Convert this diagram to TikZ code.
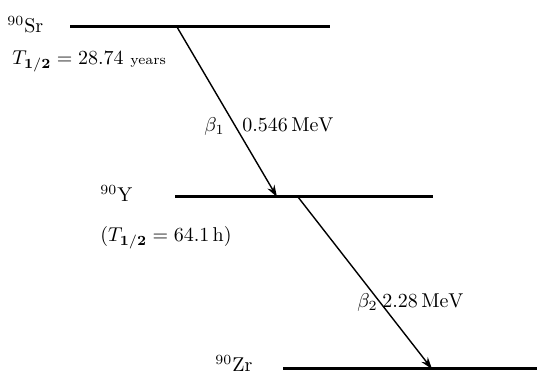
\documentclass[tikz,border=0pt]{standalone}
\usetikzlibrary{arrows.meta}
\begin{document}
\begin{tikzpicture}[x=0.5pt,y=-0.5pt,
  level/.style={line width=1.5pt},
  decay/.style={line width=0.7pt,-{Stealth[length=6pt,width=4pt]}},
  blbl/.style={inner sep=0pt,anchor=base west}]
\useasboundingbox (0,0) rectangle (537,374);
% levels
\coordinate (srL) at (70,27);  \coordinate (srR) at (330,27);
\coordinate (yL) at (175,197); \coordinate (yR) at (433,197);
\coordinate (zrL) at (283,369); \coordinate (zrR) at (537,369);
\draw[level] (srL) -- (srR);
\draw[level] (yL) -- (yR);
\draw[level] (zrL) -- (zrR);
% decay arrows
\coordinate (a1s) at (177,27);  \coordinate (a1e) at (277,197);
\coordinate (a2s) at (298,197); \coordinate (a2e) at (432,369);
\draw[decay] (a1s) -- (a1e);
\draw[decay] (a2s) -- (a2e);
% labels
\node[blbl] (sr) at (7,33) {$^{90}$Sr};
\node[blbl] (tsr) at (12,65) {$T_{\mathbf{1/2}}=28.74$ {\scriptsize years}};
\node[blbl] (y) at (100,202) {$^{90}$Y};
\node[blbl] (ty) at (100,242) {$(T_{\mathbf{1/2}}=64.1\,\mathrm{h})$};
\node[blbl] (zr) at (215,372) {$^{90}$Zr};
\node[blbl] (b1) at (204,132) {$\beta_1$};
\node[blbl] (e1) at (242,132) {$0.546\,\mathrm{MeV}$};
\node[blbl] (b2) at (357,308) {$\beta_2$};
\node[blbl] (e2) at (382,308) {$2.28\,\mathrm{MeV}$};
\end{tikzpicture}
\end{document}
